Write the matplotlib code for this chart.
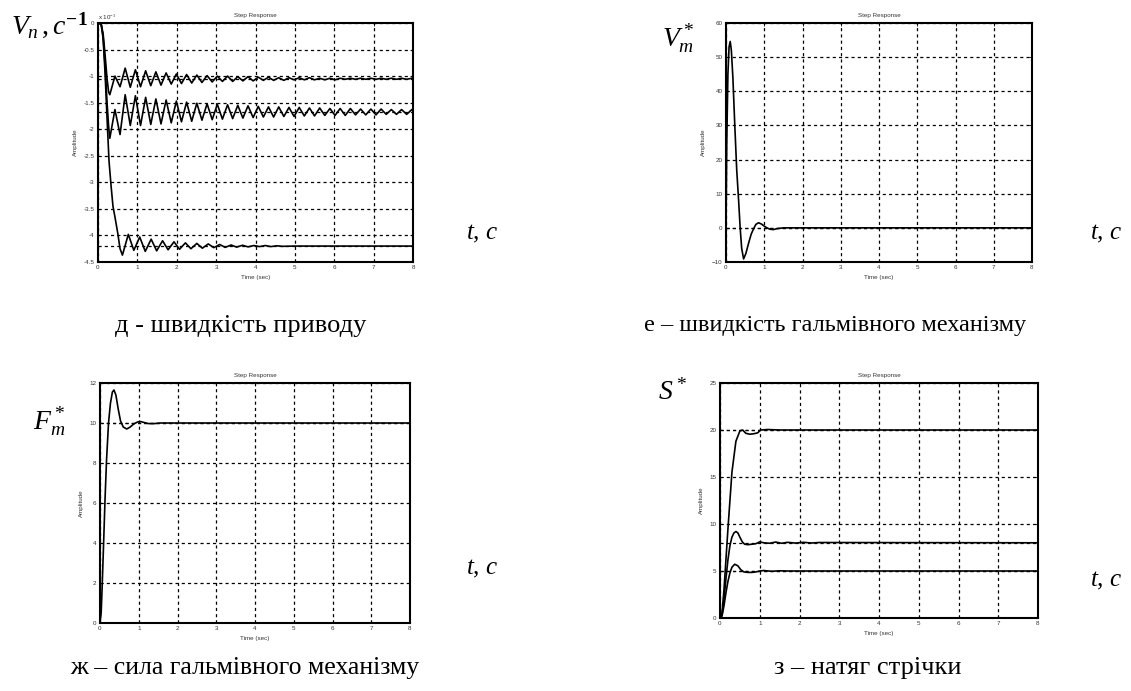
import matplotlib
matplotlib.use('Agg')
import matplotlib.pyplot as plt

plt.rcParams['font.family'] = ['Liberation Sans', 'DejaVu Sans']
plt.rcParams['mathtext.fontset'] = 'custom'
plt.rcParams['mathtext.rm'] = 'Liberation Serif'
plt.rcParams['mathtext.it'] = 'Liberation Serif:italic'
plt.rcParams['mathtext.bf'] = 'Liberation Serif:bold'

# ---------------- data ----------------
x_ticks = [0, 1, 2, 3, 4, 5, 6, 7, 8]

# panel д : drive speed (values in units of 1e-3)
t_vn12 = [0, 0.08, 0.13, 0.18, 0.23, 0.27,
          0.30, 0.43, 0.56, 0.69, 0.82, 0.95, 1.08, 1.21, 1.34, 1.47,
          1.60, 1.73, 1.86, 1.99, 2.12, 2.25, 2.38, 2.51, 2.64, 2.77,
          2.90, 3.03, 3.16, 3.29, 3.42, 3.55, 3.68, 3.81, 3.94, 4.07,
          4.20, 4.33, 4.46, 4.59, 4.72, 4.85, 4.98, 5.11, 5.24, 5.37,
          5.50, 5.63, 5.76, 5.89, 6.02, 6.15, 6.28, 6.41, 6.54, 6.67,
          6.80, 6.93, 7.06, 7.19, 7.32, 7.45, 7.58, 7.71, 7.84, 7.97, 8.00]
vn1 = [0, -0.02, -0.2, -0.6, -1.05, -1.3,
       -1.35, -1.00, -1.20, -0.85, -1.21, -0.88, -1.20, -0.90, -1.18, -0.92,
       -1.17, -0.94, -1.15, -0.96, -1.14, -0.97, -1.13, -0.98, -1.12, -0.99,
       -1.11, -1.00, -1.10, -1.00, -1.10, -1.01, -1.09, -1.01, -1.09, -1.02,
       -1.08, -1.02, -1.08, -1.03, -1.08, -1.03, -1.07, -1.03, -1.07, -1.03,
       -1.07, -1.04, -1.07, -1.04, -1.07, -1.04, -1.06, -1.04, -1.06, -1.04,
       -1.06, -1.04, -1.06, -1.04, -1.06, -1.04, -1.06, -1.04, -1.06, -1.04, -1.05]
vn2 = [0, -0.02, -0.25, -0.8, -1.5, -1.95,
       -2.17, -1.63, -2.10, -1.35, -1.93, -1.37, -1.93, -1.40, -1.91, -1.43,
       -1.90, -1.45, -1.88, -1.47, -1.86, -1.49, -1.85, -1.51, -1.83, -1.52,
       -1.82, -1.53, -1.81, -1.54, -1.80, -1.55, -1.79, -1.56, -1.78, -1.57,
       -1.77, -1.58, -1.77, -1.58, -1.76, -1.59, -1.76, -1.59, -1.75, -1.60,
       -1.75, -1.60, -1.74, -1.61, -1.74, -1.61, -1.74, -1.61, -1.73, -1.62,
       -1.73, -1.62, -1.73, -1.62, -1.72, -1.63, -1.72, -1.63, -1.72, -1.63, -1.66]
t_vn3 = [0, 0.08, 0.13, 0.18, 0.23, 0.28, 0.33, 0.38, 0.43, 0.50, 0.56, 0.62,
         0.77, 0.91, 1.06, 1.20, 1.35, 1.49, 1.64, 1.78, 1.93, 2.07,
         2.22, 2.36, 2.51, 2.65, 2.80, 2.94, 3.09, 3.23, 3.38, 3.52,
         3.67, 3.81, 3.96, 4.10, 4.25, 4.39, 4.54, 4.68, 5.0, 8.0]
vn3 = [0, -0.02, -0.3, -0.95, -1.8, -2.6, -3.05, -3.45, -3.65, -3.95, -4.25, -4.37,
       -3.98, -4.28, -4.03, -4.30, -4.07, -4.29, -4.10, -4.27, -4.12, -4.26,
       -4.14, -4.25, -4.15, -4.24, -4.16, -4.23, -4.17, -4.225, -4.18, -4.22,
       -4.185, -4.215, -4.19, -4.21, -4.19, -4.21, -4.195, -4.205, -4.2, -4.2]
vn_steady = [-1.05, -1.68, -4.2]
vn_yticks = [0, -0.5, -1, -1.5, -2, -2.5, -3, -3.5, -4, -4.5]
vn_ylabels = ['0', '-0.5', '-1', '-1.5', '-2', '-2.5', '-3', '-3.5', '-4', '-4.5']

# panel е : brake mechanism speed
t_vm = [0, 0.02, 0.05, 0.08, 0.11, 0.14, 0.18, 0.23, 0.28, 0.33, 0.37, 0.41,
        0.46, 0.52, 0.59, 0.66, 0.72, 0.78, 0.85, 0.93, 1.00, 1.07, 1.15,
        1.24, 1.35, 1.50, 8.0]
vm = [0, 25, 45, 53, 54.6, 52, 44, 30, 17, 8, 0, -6,
      -9.1, -7.5, -4.5, -1.8, -0.3, 1.0, 1.5, 1.1, 0.5, 0, -0.4,
      -0.5, -0.2, 0, 0]
vm_steady = [0]
vm_yticks = [-10, 0, 10, 20, 30, 40, 50, 60]

# panel ж : brake mechanism force
t_fm = [0, 0.03, 0.05, 0.09, 0.13, 0.17, 0.22, 0.27, 0.32, 0.36, 0.41, 0.47,
        0.53, 0.60, 0.69, 0.78, 0.87, 0.97, 1.05, 1.15, 1.25, 1.40, 1.55, 8.0]
fm = [0, 0.5, 1.5, 3.8, 6.2, 8.2, 10.0, 11.0, 11.55, 11.65, 11.4, 10.7,
      10.1, 9.8, 9.7, 9.8, 9.95, 10.05, 10.07, 10.02, 9.97, 9.97, 10.0, 10.0]
fm_steady = [10]
fm_yticks = [0, 2, 4, 6, 8, 10, 12]

# panel з : band tension
t_s1 = [0, 0.05, 0.10, 0.20, 0.30, 0.40, 0.50, 0.57, 0.65, 0.75, 0.85, 0.95,
        1.02, 1.20, 1.50, 8.0]
s1 = [0, 0.5, 3.0, 9.5, 15.5, 18.8, 19.9, 20.0, 19.65, 19.55, 19.6, 19.7,
      20.0, 20.05, 20.0, 20.0]
t_s2 = [0, 0.05, 0.10, 0.15, 0.20, 0.25, 0.30, 0.35, 0.40, 0.45, 0.50, 0.56,
        0.62, 0.70, 0.80, 0.90, 1.00, 1.10, 1.25, 1.40, 1.55, 1.70, 1.90,
        2.10, 2.30, 2.50, 8.0]
s2 = [0, 0.3, 2.0, 4.2, 6.2, 7.7, 8.6, 9.05, 9.2, 9.05, 8.6, 8.1,
      7.85, 7.8, 7.85, 7.9, 8.1, 8.0, 7.95, 8.08, 7.95, 8.05, 7.97,
      8.05, 7.98, 8.03, 8.0]
t_s3 = [0, 0.05, 0.10, 0.15, 0.20, 0.25, 0.30, 0.37, 0.45, 0.52, 0.60, 0.70,
        0.80, 0.90, 1.00, 1.10, 1.30, 1.50, 1.70, 8.0]
s3 = [0, 0.2, 1.3, 2.7, 3.9, 4.8, 5.4, 5.72, 5.55, 5.15, 4.9, 4.85,
      4.85, 4.9, 5.0, 5.05, 4.97, 5.02, 5.0, 5.0]
s_steady = [20, 8, 5]
s_yticks = [0, 5, 10, 15, 20, 25]

captions = ['д - швидкість приводу',
            'е – швидкість гальмівного механізму',
            'ж – сила гальмівного механізму',
            'з – натяг стрічки']

# ---------------- figure ----------------
W, H = 1131, 691
fig = plt.figure(figsize=(W / 100, H / 100), dpi=100)


def box(l, t, r, b):
    return [l / W, 1 - b / H, (r - l) / W, (b - t) / H]


def style(ax, yticks, ylim, ylabels=None):
    ax.set_xlim(0, 8)
    ax.set_ylim(*ylim)
    ax.set_xticks(x_ticks)
    ax.set_yticks(yticks)
    if ylabels is not None:
        ax.set_yticklabels(ylabels)
    ax.tick_params(direction='in', length=2.5, width=0.6, labelsize=4.5,
                   pad=2.5, top=True, right=True, labelcolor='#333333')
    for s in ax.spines.values():
        s.set_linewidth(1.5)
    ax.grid(True, color='k', ls=(0, (2.5, 2.5)), lw=0.9)
    ax.set_axisbelow(True)
    ax.set_title('Step Response', fontsize=4.5, pad=4, color='#333333')
    ax.set_xlabel('Time (sec)', fontsize=4.5, labelpad=3, color='#333333')
    ax.set_ylabel('Amplitude', fontsize=4.5, labelpad=4, color='#333333')


LW = 1.2
DASH = (0, (2.5, 2.5))
CURVE = dict(color='k', lw=LW, solid_joinstyle='round', solid_capstyle='round')

# д
ax1 = fig.add_axes(box(98, 23, 413, 262))
ax1.plot(t_vn12, vn1, **CURVE)
ax1.plot(t_vn12, vn2, **CURVE)
ax1.plot(t_vn3, vn3, **CURVE)
for v in vn_steady:
    ax1.axhline(v, color='k', ls=DASH, lw=0.9)
style(ax1, vn_yticks, (-4.5, 0), vn_ylabels)
ax1.text(0.0, 1.005, r'x 10$^{-3}$', transform=ax1.transAxes, fontsize=4.5,
         ha='left', va='bottom', color='#333333', family='Liberation Sans')

# е
ax2 = fig.add_axes(box(726, 23, 1032, 262))
ax2.plot(t_vm, vm, **CURVE)
for v in vm_steady:
    ax2.axhline(v, color='k', ls=DASH, lw=0.9)
style(ax2, vm_yticks, (-10, 60))

# ж
ax3 = fig.add_axes(box(100, 383, 410, 623))
ax3.plot(t_fm, fm, **CURVE)
for v in fm_steady:
    ax3.axhline(v, color='k', ls=DASH, lw=0.9)
style(ax3, fm_yticks, (0, 12))

# з
ax4 = fig.add_axes(box(720, 383, 1038, 618))
ax4.plot(t_s1, s1, **CURVE)
ax4.plot(t_s2, s2, **CURVE)
ax4.plot(t_s3, s3, **CURVE)
for v in s_steady:
    ax4.axhline(v, color='k', ls=DASH, lw=0.9)
style(ax4, s_yticks, (0, 25))


# big axis symbols
def ftxt(x, y, s, size=20, ha='left', **kw):
    fig.text(x / W, 1 - y / H, s, fontsize=size, ha=ha, va='center', **kw)


ftxt(11, 25, r'$V_n\,,c^{\mathbf{-1}}$')
ftxt(662, 38, r'$V_m^*$')
ftxt(33, 422, r'$F_m^*$')
ftxt(658, 392, r'$S^*$')
for (x, y) in [(466, 233), (1090, 233), (466, 568), (1090, 580)]:
    ftxt(x, y, r'$t,\,c$', size=18)

serif = ['Liberation Serif', 'DejaVu Serif']
ftxt(241, 326, captions[0], size=19, ha='center', family=serif)
ftxt(835, 326, captions[1], size=17.5, ha='center', family=serif)
ftxt(245, 668, captions[2], size=18.5, ha='center', family=serif)
ftxt(868, 668, captions[3], size=19, ha='center', family=serif)

fig.savefig('out.png', dpi=100)
